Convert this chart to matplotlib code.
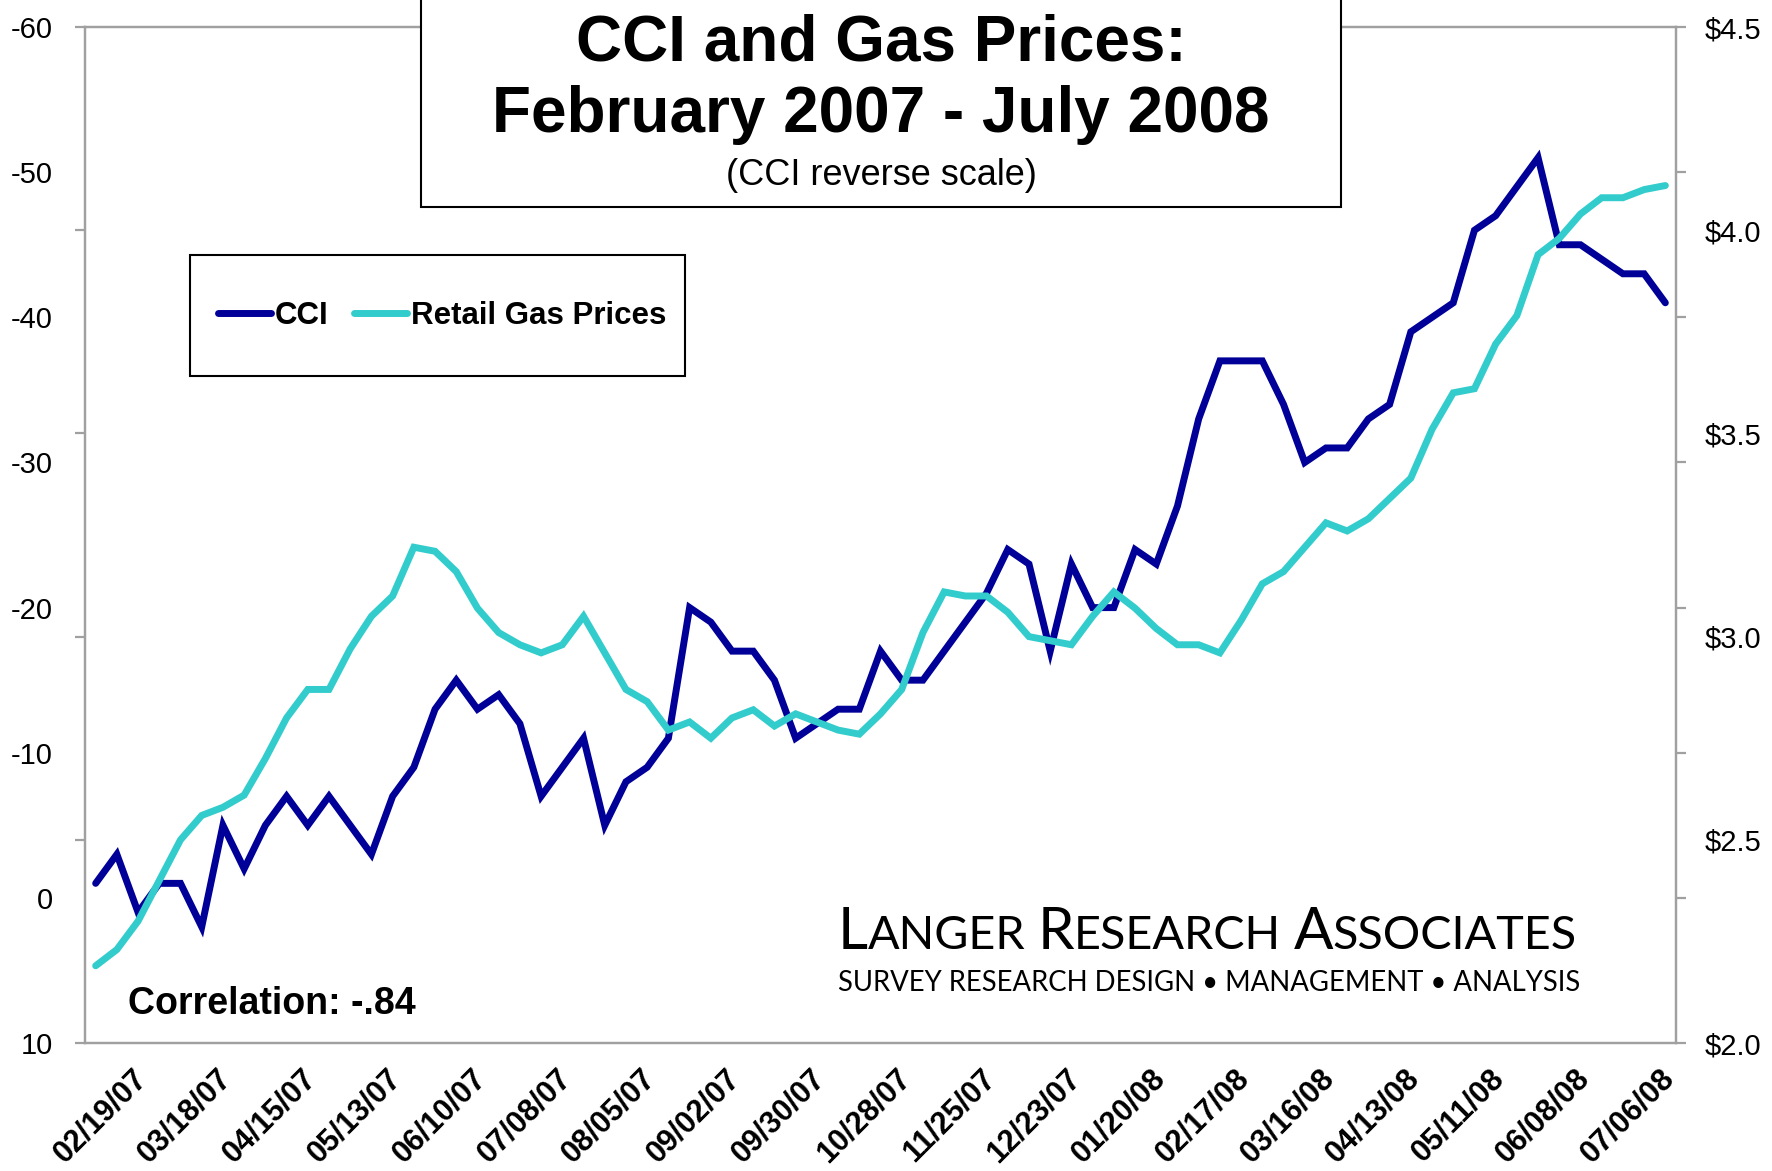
import matplotlib
matplotlib.use("Agg")
import matplotlib.pyplot as plt
import matplotlib.transforms as mtransforms
from matplotlib.patches import Rectangle
from matplotlib import font_manager

# weekly readings starting 02/19/07 (CCI on a reversed scale, gas in $/gal)
cci = [-1, -3, 1, -1, -1, 2, -5, -2, -5, -7,
       -5, -7, -5, -3, -7, -9, -13, -15, -13, -14,
       -12, -7, -9, -11, -5, -8, -9, -11, -20, -19,
       -17, -17, -15, -11, -12, -13, -13, -17, -15, -15,
       -17, -19, -21, -24, -23, -17, -23, -20, -20, -24,
       -23, -27, -33, -37, -37, -37, -34, -30, -31, -31,
       -33, -34, -39, -40, -41, -46, -47, -49, -51, -45,
       -45, -44, -43, -43, -41]

gas = [2.19, 2.23, 2.30, 2.40, 2.50, 2.56, 2.58, 2.61, 2.70, 2.80,
       2.87, 2.87, 2.97, 3.05, 3.10, 3.22, 3.21, 3.16, 3.07, 3.01,
       2.98, 2.96, 2.98, 3.05, 2.96, 2.87, 2.84, 2.77, 2.79, 2.75,
       2.80, 2.82, 2.78, 2.81, 2.79, 2.77, 2.76, 2.81, 2.87, 3.01,
       3.11, 3.10, 3.10, 3.06, 3.00, 2.99, 2.98, 3.05, 3.11, 3.07,
       3.02, 2.98, 2.98, 2.96, 3.04, 3.13, 3.16, 3.22, 3.28, 3.26,
       3.29, 3.34, 3.39, 3.51, 3.60, 3.61, 3.72, 3.79, 3.94, 3.98,
       4.04, 4.08, 4.08, 4.10, 4.11]

week_labels = ["02/19/07", "03/18/07", "04/15/07", "05/13/07", "06/10/07",
               "07/08/07", "08/05/07", "09/02/07", "09/30/07", "10/28/07",
               "11/25/07", "12/23/07", "01/20/08", "02/17/08", "03/16/08",
               "04/13/08", "05/11/08", "06/08/08", "07/06/08"]

cci_ticks = [-60, -50, -40, -30, -20, -10, 0, 10]
gas_ticks = [2.0, 2.5, 3.0, 3.5, 4.0, 4.5]

NAVY = "#000099"
TEAL = "#33CCCC"
GRAY = "#A0A0A0"

plt.rcParams["font.family"] = ["Liberation Sans", "DejaVu Sans"]

installed = {f.name for f in font_manager.fontManager.ttflist}
if "Liberation Sans Narrow" in installed:
    narrow = dict(family="Liberation Sans Narrow", size=25)
    xlab = dict(family="Liberation Sans Narrow", size=25, weight="bold")
else:
    narrow = dict(family="Liberation Sans", size=21)
    xlab = dict(family="Liberation Sans", size=22, weight="bold")

fig = plt.figure(figsize=(17.72, 11.71), dpi=100)
ax = fig.add_axes([0.048, 0.1093, 0.8978, 0.8676])
ax2 = ax.twinx()

x = list(range(len(cci)))
l1, = ax.plot(x, cci, color=NAVY, lw=5.0, solid_capstyle="round", solid_joinstyle="miter")
l2, = ax2.plot(x, gas, color=TEAL, lw=5.0, solid_capstyle="round", solid_joinstyle="miter")

ax.set_xlim(-0.5, len(cci) - 0.5)
ax.set_ylim(10, -60)
ax2.set_ylim(2.0, 4.5)

for a in (ax, ax2):
    for s in a.spines.values():
        s.set_color(GRAY)
        s.set_linewidth(1.6)

# labels for CCI on the left, its tick marks sit on the right spine (as in the original)
ax.set_yticks(cci_ticks)
ax.set_yticklabels([str(v) for v in cci_ticks], fontdict=narrow)
ax.tick_params(axis="y", left=False, right=True, labelleft=True, labelright=False,
               direction="out", length=7, width=1.6, color=GRAY, pad=16)

ax2.set_yticks(gas_ticks)
ax2.set_yticklabels(["$%.1f" % v for v in gas_ticks], fontdict=narrow)
ax2.tick_params(axis="y", left=True, right=False, labelleft=False, labelright=True,
                direction="out", length=7, width=1.6, color=GRAY, pad=14)

# x labels, rotated, every 4 weeks
ax.set_xticks([])
pos = list(range(0, len(cci), 4))[:len(week_labels)]
off = mtransforms.ScaledTranslation(0.36, -0.2, fig.dpi_scale_trans)
trans = mtransforms.blended_transform_factory(ax.transData, ax.transAxes) + off
for p, lab in zip(pos, week_labels):
    ax.text(p, 0, lab, transform=trans, rotation=45, rotation_mode="anchor",
            ha="right", va="top", clip_on=False, **xlab)

# legend: entries without frame, box drawn separately
leg = ax2.legend([l1, l2], ["CCI", "Retail Gas Prices"], loc="center",
                 bbox_to_anchor=(0.2244, 0.7156), ncol=2, frameon=False,
                 handlelength=1.7, handletextpad=0.12, columnspacing=0.8,
                 borderpad=0.2, prop=dict(weight="bold", size=22.5))
ax2.add_patch(Rectangle((0.066, 0.6565), 0.3111, 0.1191, transform=ax2.transAxes,
                        facecolor="none", edgecolor="black", lw=1.5, zorder=6))

ax.text(0.027, 0.038, "Correlation: -.84", transform=ax.transAxes,
        fontsize=27, fontweight="bold", ha="left", va="center")

# title box overlapping the top of the plot
fig.patches.append(Rectangle((0.2376, 0.8232), 0.5192, 0.2, transform=fig.transFigure,
                             facecolor="white", edgecolor="black", lw=1.5, zorder=3))
fig.text(0.4972, 0.963, "CCI and Gas Prices:", ha="center", va="center",
         fontsize=46, fontweight="bold", zorder=4)
fig.text(0.4972, 0.902, "February 2007 - July 2008", ha="center", va="center",
         fontsize=46, fontweight="bold", zorder=4)
fig.text(0.4972, 0.8505, "(CCI reverse scale)", ha="center", va="center",
         fontsize=26, zorder=4)

# logo text in small caps, fitted to its width
renderer = fig.canvas.get_renderer()
logo_font = ["Lato", "DejaVu Sans"]


def place_small_caps(words, x0, y0, big, small, draw):
    xx = x0
    for k, w in enumerate(words):
        for part, size in ((w[0], big), (w[1:], small)):
            t = fig.text(xx, y0, part, transform=mtransforms.IdentityTransform(),
                         fontsize=size, family=logo_font, ha="left", va="baseline", zorder=4)
            xx += t.get_window_extent(renderer).width
            if not draw:
                t.remove()
        if k < len(words) - 1:
            t = fig.text(xx, y0, "A A", fontsize=small, family=logo_font,
                         transform=mtransforms.IdentityTransform())
            t2 = fig.text(xx, y0, "AA", fontsize=small, family=logo_font,
                          transform=mtransforms.IdentityTransform())
            xx += t.get_window_extent(renderer).width - t2.get_window_extent(renderer).width
            t.remove()
            t2.remove()
    return xx - x0


words = ["LANGER", "RESEARCH", "ASSOCIATES"]
W = 741.0
w0 = place_small_caps(words, 838, 1171 - 949, 40, 32, False)
k = W / w0
place_small_caps(words, 838, 1171 - 949, 40 * k, 32 * k, True)

t = fig.text(838, 1171 - 991, "SURVEY RESEARCH DESIGN \u2022 MANAGEMENT \u2022 ANALYSIS",
             transform=mtransforms.IdentityTransform(), fontsize=19, family=logo_font,
             ha="left", va="baseline", zorder=4)
w1 = t.get_window_extent(renderer).width
t.set_fontsize(19 * W / w1)

fig.savefig("out.png", dpi=100, facecolor="white")
